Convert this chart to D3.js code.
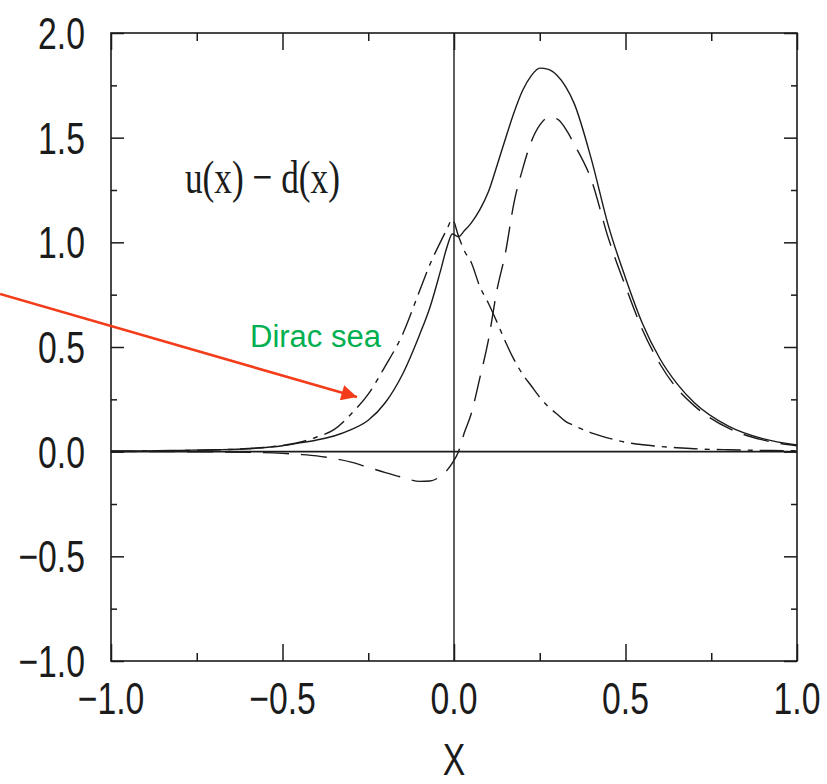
<!DOCTYPE html>
<html>
<head>
<meta charset="utf-8">
<script src="https://cdn.jsdelivr.net/npm/d3@7"></script>
<style>
  html, body { margin: 0; padding: 0; background: #fff; }
  svg { display: block; }
</style>
</head>
<body>
<svg id="chart" width="827" height="784"></svg>
<script>
// Sample points along x (shared by all three curves)
const xGrid = [-1, -0.9, -0.8, -0.7, -0.6, -0.5, -0.45, -0.4, -0.35, -0.3, -0.25, -0.2, -0.15, -0.1,
  -0.07, -0.04, -0.02, -0.005, 0.013, 0.03, 0.05, 0.075, 0.1, 0.125, 0.15, 0.175, 0.2, 0.225, 0.25,
  0.275, 0.3, 0.325, 0.35, 0.4, 0.45, 0.5, 0.55, 0.6, 0.65, 0.7, 0.8, 0.9, 1.0];

// u(x) - d(x): total (solid)
const totalVals = [0.003, 0.004, 0.006, 0.009, 0.014, 0.028, 0.042, 0.056, 0.075, 0.105, 0.15, 0.235, 0.37, 0.56,
  0.69, 0.86, 0.98, 1.04, 1.027, 1.055, 1.092, 1.155, 1.24, 1.365, 1.495, 1.62, 1.725, 1.795, 1.832,
  1.826, 1.798, 1.745, 1.665, 1.40, 1.08, 0.83, 0.61, 0.445, 0.325, 0.235, 0.122, 0.062, 0.032];

// valence contribution (long dashes)
const valenceVals = [0, 0, 0, -0.001, -0.003, -0.008, -0.013, -0.02, -0.033, -0.05, -0.075, -0.1, -0.123, -0.142,
  -0.14, -0.118, -0.088, -0.055, 0.0, 0.09, 0.18, 0.35, 0.53, 0.77, 0.95, 1.19, 1.35, 1.48, 1.56,
  1.595, 1.59, 1.543, 1.47, 1.30, 1.02, 0.79, 0.58, 0.42, 0.302, 0.22, 0.112, 0.056, 0.028];

// Dirac sea contribution (dash-dot)
const seaVals = [0.002, 0.003, 0.005, 0.008, 0.015, 0.03, 0.045, 0.07, 0.105, 0.18, 0.275, 0.41, 0.56, 0.77,
  0.895, 1.0, 1.065, 1.11, 1.03, 0.96, 0.905, 0.79, 0.71, 0.62, 0.525, 0.44, 0.37, 0.315, 0.26,
  0.215, 0.18, 0.145, 0.125, 0.09, 0.065, 0.045, 0.033, 0.025, 0.019, 0.014, 0.009, 0.006, 0.004];

const xTicks = [-1, -0.5, 0, 0.5, 1];
const xTickLabels = ["\u22121.0", "\u22120.5", "0.0", "0.5", "1.0"];
const xMinorTicks = [-0.75, -0.25, 0.25, 0.75];
const yTicks = [-1, -0.5, 0, 0.5, 1, 1.5, 2];
const yTickLabels = ["\u22121.0", "\u22120.5", "0.0", "0.5", "1.0", "1.5", "2.0"];
const yMinorTicks = [-0.75, -0.25, 0.25, 0.75, 1.25, 1.75];

const svg = d3.select("#chart");
const L = 111, R = 797, T = 33, B = 661;
const x = d3.scaleLinear().domain([-1, 1]).range([L, R]);
const y = d3.scaleLinear().domain([-1, 2]).range([B, T]);

const ink = "#1b1b1b";
const sans = "'Liberation Sans', Arial, Helvetica, sans-serif";
const serif = "'Liberation Serif', 'Times New Roman', Times, serif";
const squeeze = 0.75; // narrow lettering of the frame labels

// Panel tag, sitting just above the top edge of the page
svg.append("text")
  .attr("transform", `translate(${461},${-11}) scale(${squeeze},1)`)
  .attr("text-anchor", "middle")
  .style("font-family", serif).style("font-size", "46px").attr("fill", ink)
  .text("(a)");

// Ticks on all four sides, pointing inward
function styleAxis(g) {
  g.select(".domain").remove();
  g.selectAll(".tick line").attr("stroke", ink).attr("stroke-width", 1.5);
  g.selectAll(".tick text").remove();
}
const axes = [
  [d3.axisBottom(x).tickValues(xTicks).tickSizeInner(-17), `translate(0,${B})`],
  [d3.axisBottom(x).tickValues(xMinorTicks).tickSizeInner(-8), `translate(0,${B})`],
  [d3.axisTop(x).tickValues(xTicks).tickSizeInner(-17), `translate(0,${T})`],
  [d3.axisTop(x).tickValues(xMinorTicks).tickSizeInner(-8), `translate(0,${T})`],
  [d3.axisLeft(y).tickValues(yTicks).tickSizeInner(-13), `translate(${L},0)`],
  [d3.axisLeft(y).tickValues(yMinorTicks).tickSizeInner(-6), `translate(${L},0)`],
  [d3.axisRight(y).tickValues(yTicks).tickSizeInner(-13), `translate(${R},0)`],
  [d3.axisRight(y).tickValues(yMinorTicks).tickSizeInner(-6), `translate(${R},0)`]
];
axes.forEach(([ax, tr]) => {
  svg.append("g").attr("transform", tr).call(ax.tickSizeOuter(0).tickFormat(() => "")).call(styleAxis);
});

// Frame
svg.append("rect")
  .attr("x", L).attr("y", T).attr("width", R - L).attr("height", B - T)
  .attr("fill", "none").attr("stroke", ink).attr("stroke-width", 1.6);

// Zero lines
svg.append("line").attr("x1", x(0)).attr("x2", x(0)).attr("y1", T).attr("y2", B)
  .attr("stroke", ink).attr("stroke-width", 1.4);
svg.append("line").attr("x1", L).attr("x2", R).attr("y1", y(0)).attr("y2", y(0))
  .attr("stroke", ink).attr("stroke-width", 1.6);

// Tick labels
svg.append("g").selectAll("text").data(xTicks).join("text")
  .attr("transform", d => `translate(${x(d)},${B + 53}) scale(${squeeze},1)`)
  .attr("text-anchor", "middle")
  .style("font-family", sans).style("font-size", "45px").attr("fill", ink)
  .text((d, i) => xTickLabels[i]);
svg.append("g").selectAll("text").data(yTicks).join("text")
  .attr("transform", d => `translate(${L - 26},${y(d) + 16}) scale(${squeeze},1)`)
  .attr("text-anchor", "end")
  .style("font-family", sans).style("font-size", "45px").attr("fill", ink)
  .text((d, i) => yTickLabels[i]);

// Axis title
svg.append("text")
  .attr("transform", `translate(${x(0)},${775}) scale(${squeeze},1)`)
  .attr("text-anchor", "middle")
  .style("font-family", sans).style("font-size", "45px").attr("fill", ink)
  .text("X");

// Curves
const line = d3.line()
  .x((d, i) => x(xGrid[i]))
  .y(d => y(d))
  .curve(d3.curveMonotoneX);

const plot = svg.append("g");
plot.append("path").datum(seaVals).attr("d", line)
  .attr("fill", "none").attr("stroke", ink).attr("stroke-width", 1.4)
  .attr("stroke-dasharray", "24,7,5,7");
plot.append("path").datum(valenceVals).attr("d", line)
  .attr("fill", "none").attr("stroke", ink).attr("stroke-width", 1.4)
  .attr("stroke-dasharray", "26,12");
plot.append("path").datum(totalVals).attr("d", line)
  .attr("fill", "none").attr("stroke", ink).attr("stroke-width", 1.4);

// Curve label
svg.append("text")
  .attr("transform", `translate(${185},${193}) scale(${squeeze},1)`)
  .style("font-family", serif).style("font-size", "47px").attr("fill", ink)
  .text("u(x) \u2212 d(x)");

// Annotation: Dirac sea
svg.append("text")
  .attr("x", 250).attr("y", 347)
  .style("font-family", sans).style("font-size", "31px").attr("fill", "#00b050")
  .text("Dirac sea");

const defs = svg.append("defs");
defs.append("marker")
  .attr("id", "arrowhead").attr("viewBox", "0 0 10 10")
  .attr("refX", 10).attr("refY", 5)
  .attr("markerWidth", 7).attr("markerHeight", 6).attr("markerUnits", "strokeWidth")
  .attr("orient", "auto")
  .append("path").attr("d", "M0,0 L10,5 L0,10 Z").attr("fill", "#f23c1a");

svg.append("line")
  .attr("x1", 0).attr("y1", 294).attr("x2", 357).attr("y2", 397)
  .attr("stroke", "#f23c1a").attr("stroke-width", 2.6)
  .attr("marker-end", "url(#arrowhead)");
</script>
</body>
</html>
